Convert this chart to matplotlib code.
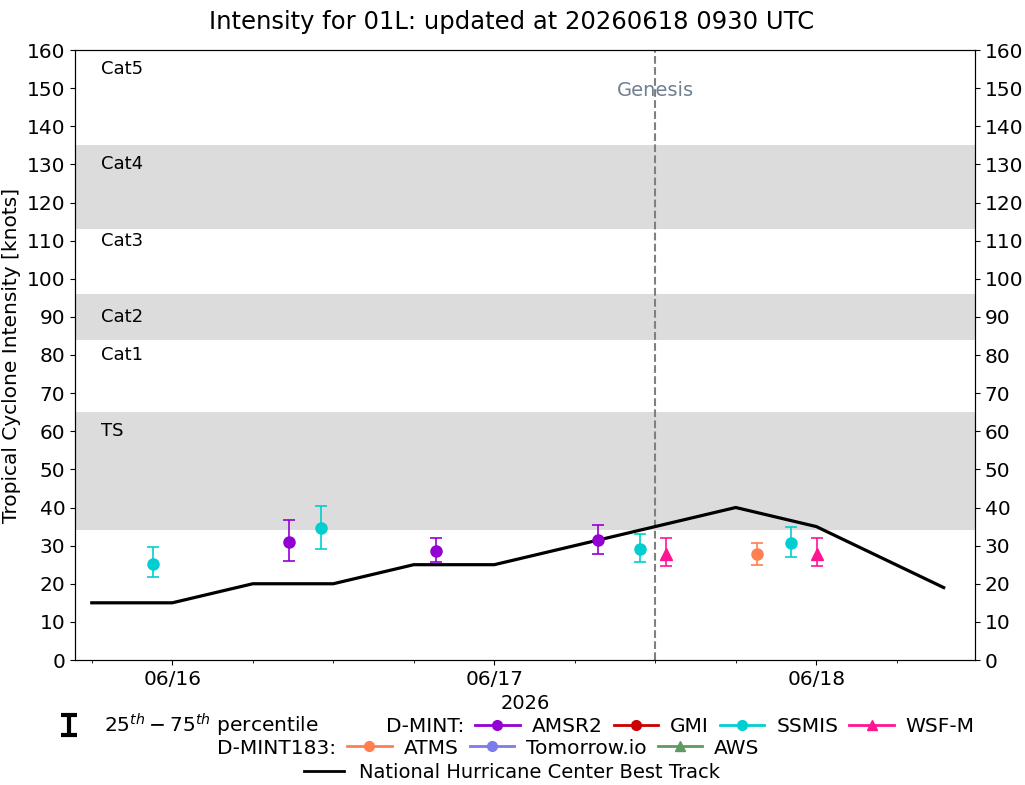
"""Intensity plot for 01L with D-MINT estimates and NHC best track."""

from datetime import datetime

import matplotlib
matplotlib.use("Agg")
import matplotlib.dates as mdates
import matplotlib.pyplot as plt
import numpy as np
from matplotlib.lines import Line2D


# NHC best track
BT_TIMES = ["2026-06-15 18:00", "2026-06-16 00:00", "2026-06-16 06:00", "2026-06-16 12:00",
            "2026-06-16 18:00", "2026-06-17 00:00", "2026-06-17 06:00", "2026-06-17 12:00",
            "2026-06-17 18:00", "2026-06-18 00:00", "2026-06-18 09:30"]
BT_VMAX = [15, 15, 20, 20, 25, 25, 30, 35, 40, 35, 19]

# D-MINT estimates: median with 25th / 75th percentile
AMSR2_TIMES = ["2026-06-16 08:40", "2026-06-16 19:38", "2026-06-17 07:46"]
AMSR2_MED = [30.9, 28.5, 31.5]
AMSR2_P25 = [25.9, 25.6, 27.7]
AMSR2_P75 = [36.6, 31.9, 35.3]

SSMIS_TIMES = ["2026-06-15 22:36", "2026-06-16 11:05", "2026-06-17 10:50", "2026-06-17 22:09"]
SSMIS_MED = [25.2, 34.5, 29.0, 30.6]
SSMIS_P25 = [21.7, 29.2, 25.6, 26.9]
SSMIS_P75 = [29.6, 40.3, 33.0, 34.8]

WSFM_TIMES = ["2026-06-17 12:47", "2026-06-18 00:03"]
WSFM_MED = [27.8, 27.8]
WSFM_P25 = [24.6, 24.6]
WSFM_P75 = [31.9, 31.9]

# D-MINT183
ATMS_TIMES = ["2026-06-17 19:33"]
ATMS_MED = [27.8]
ATMS_P25 = [24.8]
ATMS_P75 = [30.6]

GENESIS_TIME = "2026-06-17 12:00"

# Saffir-Simpson shading and labels
BANDS = [(34, 65), (84, 96), (113, 135)]
CAT_LABELS = ["TS", "Cat1", "Cat2", "Cat3", "Cat4", "Cat5"]
CAT_LABEL_Y = [60, 80, 90, 110, 130, 155]

COLORS = {"AMSR2": "#9400D3", "GMI": "#CC0000", "SSMIS": "#00CED1", "WSF-M": "#FF1493",
          "ATMS": "#FF7F50", "Tomorrow.io": "#7B7BEE", "AWS": "#5F9A62"}


def to_dt(values):
    return [datetime.strptime(v, "%Y-%m-%d %H:%M") for v in values]


def main() -> None:
    plt.rcParams.update({"font.family": "DejaVu Sans", "font.size": 14})
    fig = plt.figure(figsize=(10.25, 7.85), dpi=100)
    ax = fig.add_axes([75 / 1025, 125 / 785, 900 / 1025, 610 / 785])

    for lo, hi in BANDS:
        ax.axhspan(lo, hi, color="#DCDCDC", lw=0, zorder=0)

    xmin = datetime(2026, 6, 15, 16, 45)
    xmax = datetime(2026, 6, 18, 11, 50)
    for label, yv in zip(CAT_LABELS, CAT_LABEL_Y):
        ax.text(datetime(2026, 6, 15, 18, 40), yv, label, fontsize=13, va="center", ha="left")

    ax.plot(to_dt(BT_TIMES), BT_VMAX, color="black", lw=2.3, zorder=3)

    def draw(times, med, p25, p75, color, marker):
        med = np.array(med)
        yerr = [med - np.array(p25), np.array(p75) - med]
        ax.errorbar(to_dt(times), med, yerr=yerr, fmt=marker, color=color, ecolor=color,
                    markersize=8, capsize=4, elinewidth=1.2, capthick=1.2, zorder=4)

    draw(AMSR2_TIMES, AMSR2_MED, AMSR2_P25, AMSR2_P75, COLORS["AMSR2"], "o")
    draw(SSMIS_TIMES, SSMIS_MED, SSMIS_P25, SSMIS_P75, COLORS["SSMIS"], "o")
    draw(WSFM_TIMES, WSFM_MED, WSFM_P25, WSFM_P75, COLORS["WSF-M"], "^")
    draw(ATMS_TIMES, ATMS_MED, ATMS_P25, ATMS_P75, COLORS["ATMS"], "o")

    gen = to_dt([GENESIS_TIME])[0]
    ax.axvline(gen, color="gray", ls="--", lw=1.5, zorder=2)
    ax.text(gen, 149.5, "Genesis", color="#708090", ha="center", va="center", fontsize=14)

    ax.set_xlim(xmin, xmax)
    ax.set_ylim(0, 160)
    ax.set_yticks(np.arange(0, 161, 10))
    ax.xaxis.set_major_locator(mdates.DayLocator())
    ax.xaxis.set_major_formatter(mdates.DateFormatter("%m/%d"))
    ax.xaxis.set_minor_locator(mdates.HourLocator(byhour=[0, 6, 12, 18]))
    ax.tick_params(axis="both", labelsize=14.5)
    ax.set_xlabel("2026", fontsize=14, labelpad=4)
    ax.set_ylabel("Tropical Cyclone Intensity [knots]", fontsize=14.5)
    fig.suptitle("Intensity for 01L: updated at 20260618 0930 UTC", fontsize=17.5,
                 x=512 / 1025, y=1 - 22 / 785, va="center")

    ax2 = ax.twinx()
    ax2.set_ylim(0, 160)
    ax2.set_yticks(np.arange(0, 161, 10))
    ax2.tick_params(axis="y", labelsize=14.5)

    eb = ax.errorbar([np.nan], [np.nan], yerr=[[1], [1]], fmt="none", ecolor="black",
                     elinewidth=3, capsize=6, capthick=3)
    blank = Line2D([], [], alpha=0)

    def handle(name, marker="o"):
        return Line2D([], [], color=COLORS[name], marker=marker, markersize=7, lw=2)

    common = dict(frameon=False, fontsize=14.5, handlelength=2.2, handletextpad=0.6,
                  columnspacing=0.55, borderpad=0, borderaxespad=0, loc="center")
    row1 = [eb, blank, handle("AMSR2"), handle("GMI"), handle("SSMIS"), handle("WSF-M", "^")]
    lab1 = [r"$25^{th}-75^{th}$ percentile", "D-MINT:", "AMSR2", "GMI", "SSMIS", "WSF-M"]
    fig.legend(row1, lab1, ncol=6, bbox_to_anchor=(511 / 1025, 1 - 725 / 785), **common)
    row2 = [blank, handle("ATMS"), handle("Tomorrow.io"), handle("AWS", "^")]
    lab2 = ["D-MINT183:", "ATMS", "Tomorrow.io", "AWS"]
    fig.legend(row2, lab2, ncol=4, bbox_to_anchor=(460 / 1025, 1 - 748 / 785), **common)
    row3 = [Line2D([], [], color="black", lw=2)]
    fig.legend(row3, ["National Hurricane Center Best Track"], ncol=1,
               bbox_to_anchor=(512 / 1025, 1 - 772 / 785), frameon=False, fontsize=14,
               handlelength=2.06, handletextpad=0.77, borderpad=0, borderaxespad=0,
               loc="center")

    fig.savefig("out.png", dpi=100)
    plt.close(fig)


if __name__ == "__main__":
    main()
